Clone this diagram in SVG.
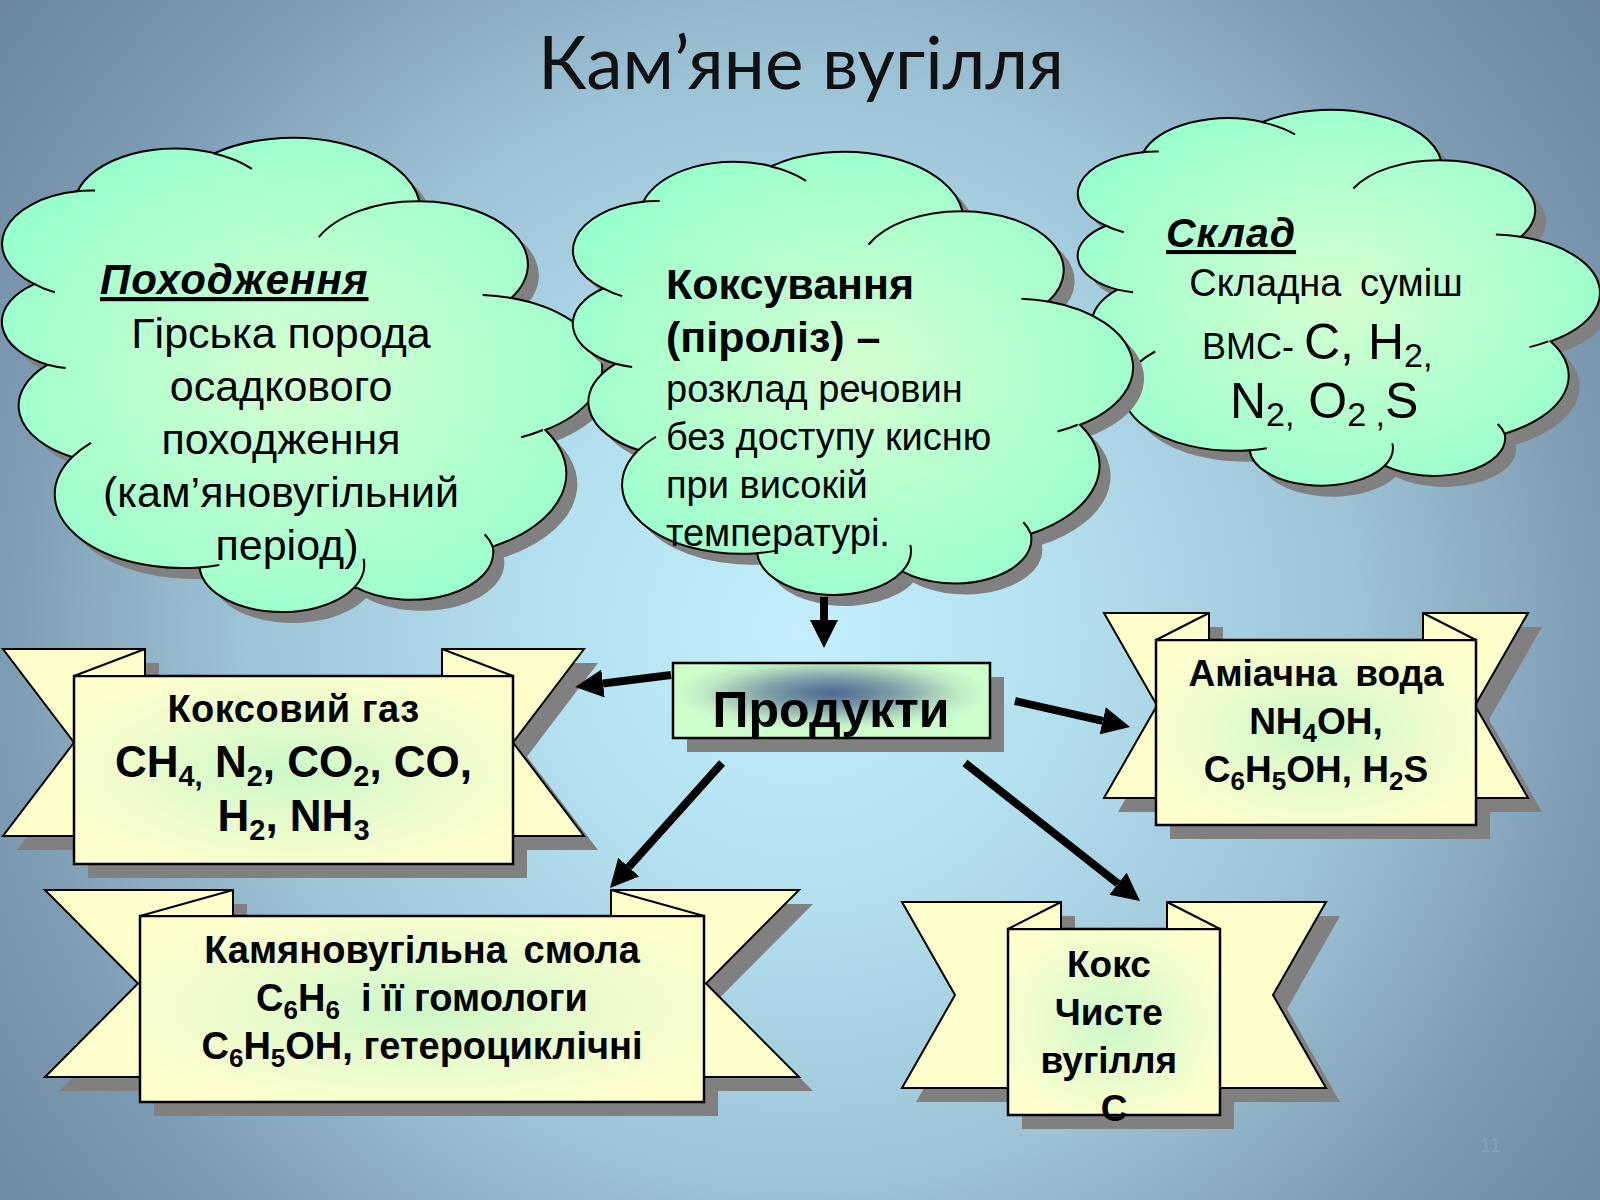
<svg xmlns="http://www.w3.org/2000/svg" xmlns:xlink="http://www.w3.org/1999/xlink" width="1600" height="1200" viewBox="0 0 1600 1200">
<defs>
  <radialGradient id="bg" gradientUnits="userSpaceOnUse" cx="800" cy="630" r="1010">
    <stop offset="0" stop-color="#c2effb"/>
    <stop offset="0.25" stop-color="#b4e1f0"/>
    <stop offset="0.55" stop-color="#9cc3d6"/>
    <stop offset="0.63" stop-color="#93b6ca"/>
    <stop offset="0.8" stop-color="#7c9ab2"/>
    <stop offset="1" stop-color="#6c879f"/>
  </radialGradient>
  <radialGradient id="cloudFill" cx="0.5" cy="0.5" r="0.55">
    <stop offset="0" stop-color="#d6ffd2"/>
    <stop offset="1" stop-color="#99ffcc"/>
  </radialGradient>
  <radialGradient id="bannerFill" cx="0.5" cy="0.5" r="0.6">
    <stop offset="0" stop-color="#ccf8c8"/>
    <stop offset="0.6" stop-color="#eefccc"/>
    <stop offset="1" stop-color="#ffffcc"/>
  </radialGradient>
  <radialGradient id="prodFill" cx="0.5" cy="0.4" r="0.5">
    <stop offset="0" stop-color="#4a6890"/>
    <stop offset="0.4" stop-color="#7f9ea8"/>
    <stop offset="0.8" stop-color="#bfeac4"/>
    <stop offset="1" stop-color="#ccffcc"/>
  </radialGradient>
  <marker id="ah" viewBox="0 0 10 10" refX="0" refY="5" markerWidth="3.5" markerHeight="3.5" orient="auto">
    <path d="M0,0 L10,5 L0,10 Z" fill="#000"/>
  </marker>
  <path id="cloudShape" vector-effect="non-scaling-stroke" d="M 39 143.7 A 67.53 91.9 0 0 1 140.03 52 A 53.33 72.67 0 0 1 224.54 34.3 A 43.65 59.45 0 0 1 298.32 24.79 A 48.57 65.95 0 0 1 383.16 55.76 A 53.33 72.73 0 0 1 418.17 154.6 A 67.75 92.2 0 0 1 374.03 302.04 A 57.85 78.67 0 0 1 285.55 368.15 A 67.52 92.15 0 0 1 164.8 392.67 A 77.2 105.43 0 0 1 58.04 354.75 A 43.6 59.18 0 0 1 21.14 255.51 A 43.45 59.45 0 0 1 39 143.7 Z"/>
  <path id="cloudLines" vector-effect="non-scaling-stroke" d="M 46.93 261.77 A 43.45 59.45 0 0 1 21.14 255.51 M 69.28 348.99 A 43.6 59.18 0 0 1 58.04 354.75 M 164.78 390.9 A 67.52 92.15 0 0 1 158.12 375.26 M 288.27 347.51 A 67.52 92.15 0 0 1 285.55 368.15 M 341.29 229.54 A 57.85 78.67 0 0 1 374.03 302.04 M 417.98 153.54 A 53.33 72.73 0 0 1 403.69 181.35 M 383.24 54.26 A 48.57 65.95 0 0 1 383.93 68.4 M 290.78 39.52 A 48.57 65.95 0 0 1 298.32 24.79 M 221.41 47.2 A 43.65 59.45 0 0 1 224.54 34.3 M 140 51.92 A 67.53 91.9 0 0 1 153.05 65.51 M 41.27 157.89 A 67.53 91.9 0 0 1 39 143.7"/>
</defs>
<style>
  .cshadow{fill:#808080;stroke:none}
  .cbody{fill:url(#cloudFill);stroke:#000;stroke-width:2}
  .cline{fill:none;stroke:#000;stroke-width:2}
  .shadow{fill:#808080;stroke:none}
  .tail{fill:#ffffcc;stroke:#000;stroke-width:2;stroke-linejoin:miter}
  .front{fill:url(#bannerFill);stroke:#000;stroke-width:2.5}
  .fold{fill:#ffffcc;stroke:#000;stroke-width:2;stroke-linejoin:round}
  text{font-family:"Liberation Sans",Arial,sans-serif;fill:#000}
  .b{font-weight:bold}
  .conn line{stroke:#000;stroke-width:8;marker-end:url(#ah)}
</style>

<rect x="0" y="0" width="1600" height="1200" fill="url(#bg)"/>

<text id="title" x="801" y="89" text-anchor="middle" style="font-family:Lato,'Open Sans',sans-serif;fill:#111" font-size="73">Кам’яне вугілля</text>

<!-- Cloud 1: Походження -->
<g id="cloud-origin">
  <use xlink:href="#cloudShape" class="cshadow" transform="translate(11,11) matrix(0,-1.09259,1.38889,0,0,610)"/>
  <use xlink:href="#cloudShape" class="cbody" transform="matrix(0,-1.09259,1.38889,0,0,610)"/>
  <use xlink:href="#cloudLines" class="cline" transform="matrix(0,-1.09259,1.38889,0,0,610)"/>
  <text x="100" y="294" class="b" font-style="italic" font-size="42" letter-spacing="1" text-decoration="underline">Походження</text>
  <text text-anchor="middle" font-size="43">
    <tspan x="287" y="348">Гірська порода</tspan>
    <tspan x="287" y="401">осадкового</tspan>
    <tspan x="287" y="454">походження</tspan>
    <tspan x="287" y="507">(кам’яновугільний</tspan>
    <tspan x="287" y="560">період)</tspan>
  </text>
</g>

<!-- Cloud 3: Склад -->
<g id="cloud-composition">
  <use xlink:href="#cloudShape" class="cshadow" transform="translate(11,11) matrix(0,-0.86574,1.20833,0,1076,484)"/>
  <use xlink:href="#cloudShape" class="cbody" transform="matrix(0,-0.86574,1.20833,0,1076,484)"/>
  <use xlink:href="#cloudLines" class="cline" transform="matrix(0,-0.86574,1.20833,0,1076,484)"/>
  <text x="1166" y="247" class="b" font-style="italic" font-size="41" letter-spacing="1" text-decoration="underline">Склад</text>
  <text x="1326" y="296" text-anchor="middle" font-size="38" word-spacing="8">Складна суміш</text>
  <text x="1202" y="359" font-size="50"><tspan font-size="36">ВМС- </tspan>C, H<tspan font-size="34" dy="8">2,</tspan></text>
  <text x="1230" y="418" font-size="50">N<tspan font-size="34" dy="8">2,</tspan><tspan dy="-8"> O</tspan><tspan font-size="34" dy="8">2 ,</tspan><tspan dy="-8">S</tspan></text>
</g>

<!-- Cloud 2: Коксування -->
<g id="cloud-coking">
  <use xlink:href="#cloudShape" class="cshadow" transform="translate(11,11) matrix(0,-1.02083,1.2963,0,571,593)"/>
  <use xlink:href="#cloudShape" class="cbody" transform="matrix(0,-1.02083,1.2963,0,571,593)"/>
  <use xlink:href="#cloudLines" class="cline" transform="matrix(0,-1.02083,1.2963,0,571,593)"/>
  <text x="666" y="299" class="b" font-size="43">Коксування</text>
  <text x="666" y="352" class="b" font-size="43">(піроліз) –</text>
  <text font-size="38">
    <tspan x="666" y="402">розклад речовин</tspan>
    <tspan x="666" y="450">без доступу кисню</tspan>
    <tspan x="666" y="498">при високій</tspan>
    <tspan x="666" y="546">температурі.</tspan>
  </text>
</g>

<!-- Banner 1: Коксовий газ -->
<g id="banner-gas">
  <g class="shadow" transform="translate(14,14)">
    <polygon points="3,649 145,649 145,836 3,836 74,742.5"/>
    <polygon points="584,649 442,649 442,836 584,836 513,742.5"/>
    <rect x="74" y="676" width="439" height="188"/>
  </g>
  <polygon class="tail" points="3,649 145,649 145,836 3,836 74,742.5"/>
  <polygon class="tail" points="584,649 442,649 442,836 584,836 513,742.5"/>
  <rect class="front" x="74" y="676" width="439" height="188"/>
  <polygon class="fold" points="74,676 145,649 145,676"/>
  <polygon class="fold" points="513,676 442,649 442,676"/>
  <text x="293.5" y="722" text-anchor="middle" font-size="38" class="b" letter-spacing="0.5">Коксовий газ</text>
  <text x="293.5" y="777" text-anchor="middle" font-size="44" class="b">CH<tspan font-size="29" dy="9">4,</tspan><tspan dy="-9"> N</tspan><tspan font-size="29" dy="9">2</tspan><tspan dy="-9">, CO</tspan><tspan font-size="29" dy="9">2</tspan><tspan dy="-9">, CO,</tspan></text>
  <text x="293.5" y="831" text-anchor="middle" font-size="44" class="b">H<tspan font-size="29" dy="9">2</tspan><tspan dy="-9">, NH</tspan><tspan font-size="29" dy="9">3</tspan></text>
</g>

<!-- Banner 2: Камяновугільна смола -->
<g id="banner-tar">
  <g class="shadow" transform="translate(14,14)">
    <polygon points="45,890 233,890 233,1077 45,1077 138,983.5"/>
    <polygon points="799,890 611,890 611,1077 799,1077 706,983.5"/>
    <rect x="140" y="916" width="564" height="186"/>
  </g>
  <polygon class="tail" points="45,890 233,890 233,1077 45,1077 138,983.5"/>
  <polygon class="tail" points="799,890 611,890 611,1077 799,1077 706,983.5"/>
  <rect class="front" x="140" y="916" width="564" height="186"/>
  <polygon class="fold" points="140,916 233,890 233,916"/>
  <polygon class="fold" points="704,916 611,890 611,916"/>
  <text x="422" y="963" text-anchor="middle" font-size="38" class="b" word-spacing="6">Камяновугільна смола</text>
  <text x="422" y="1011" text-anchor="middle" font-size="38" class="b">C<tspan font-size="26" dy="8">6</tspan><tspan dy="-8">H</tspan><tspan font-size="26" dy="8">6</tspan><tspan dy="-8" xml:space="preserve">  і її гомологи</tspan></text>
  <text x="422" y="1059" text-anchor="middle" font-size="38" class="b">C<tspan font-size="26" dy="8">6</tspan><tspan dy="-8">H</tspan><tspan font-size="26" dy="8">5</tspan><tspan dy="-8">OH, гетероциклічні</tspan></text>
</g>

<!-- Banner 3: Аміачна вода -->
<g id="banner-ammonia">
  <g class="shadow" transform="translate(14,14)">
    <polygon points="1104,613 1209,613 1209,798 1104,798 1157,705.5"/>
    <polygon points="1528,613 1423,613 1423,798 1528,798 1475,705.5"/>
    <rect x="1156" y="640" width="320" height="185"/>
  </g>
  <polygon class="tail" points="1104,613 1209,613 1209,798 1104,798 1157,705.5"/>
  <polygon class="tail" points="1528,613 1423,613 1423,798 1528,798 1475,705.5"/>
  <rect class="front" x="1156" y="640" width="320" height="185"/>
  <polygon class="fold" points="1156,640 1209,613 1209,640"/>
  <polygon class="fold" points="1476,640 1423,613 1423,640"/>
  <text x="1316" y="686" text-anchor="middle" font-size="37" class="b" word-spacing="8">Аміачна вода</text>
  <text x="1316" y="734" text-anchor="middle" font-size="37" class="b">NH<tspan font-size="26" dy="8">4</tspan><tspan dy="-8">OH,</tspan></text>
  <text x="1316" y="782" text-anchor="middle" font-size="37" class="b">C<tspan font-size="26" dy="8">6</tspan><tspan dy="-8">H</tspan><tspan font-size="26" dy="8">5</tspan><tspan dy="-8">OH, H</tspan><tspan font-size="26" dy="8">2</tspan><tspan dy="-8">S</tspan></text>
</g>

<!-- Banner 4: Кокс -->
<g id="banner-coke">
  <g class="shadow" transform="translate(14,14)">
    <polygon points="902,902 1061,902 1061,1088 902,1088 955,995"/>
    <polygon points="1326,902 1167,902 1167,1088 1326,1088 1273,995"/>
    <rect x="1008" y="929" width="212" height="186"/>
  </g>
  <polygon class="tail" points="902,902 1061,902 1061,1088 902,1088 955,995"/>
  <polygon class="tail" points="1326,902 1167,902 1167,1088 1326,1088 1273,995"/>
  <rect class="front" x="1008" y="929" width="212" height="186"/>
  <polygon class="fold" points="1008,929 1061,902 1061,929"/>
  <polygon class="fold" points="1220,929 1167,902 1167,929"/>
  <text text-anchor="middle" font-size="37" class="b">
    <tspan x="1114" y="977">Кокс</tspan>
    <tspan x="1114" y="1025">Чисте</tspan>
    <tspan x="1114" y="1073">вугілля</tspan>
    <tspan x="1114" y="1121">C</tspan>
  </text>
</g>

<!-- Продукти -->
<g id="products">
  <rect class="shadow" x="687" y="677" width="317" height="75"/>
  <rect x="673" y="663" width="317" height="75" fill="url(#prodFill)" stroke="#000" stroke-width="2.5"/>
  <text x="831" y="727" text-anchor="middle" font-size="50" class="b">Продукти</text>
</g>

<g id="connectors" class="conn">
  <line x1="824" y1="597" x2="824" y2="620"/>
  <line x1="671" y1="675" x2="603" y2="683.5"/>
  <line x1="1015" y1="701" x2="1102.7" y2="720.8"/>
  <line x1="722" y1="763" x2="628.7" y2="867.1"/>
  <line x1="965" y1="763" x2="1118" y2="883.7"/>
</g>

<text id="page-number" x="1480" y="1152" font-size="20" style="fill:#86a2ba">11</text>
</svg>
